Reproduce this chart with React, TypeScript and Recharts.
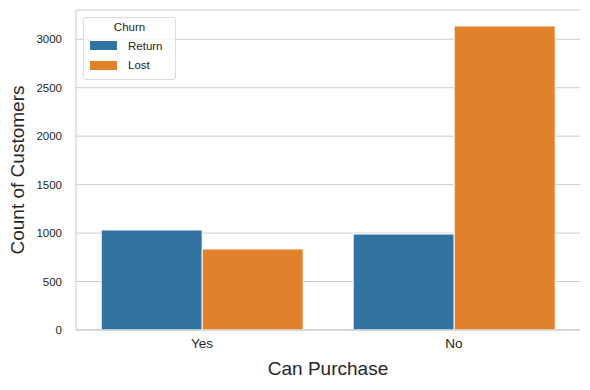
import React from 'react';
import { Bar, BarChart, CartesianGrid, XAxis, YAxis } from 'recharts';

const categories = ['Yes', 'No'];
const returnCounts = [1032, 990];
const lostCounts = [836, 3137];
const yTicks = [0, 500, 1000, 1500, 2000, 2500, 3000];

const data = categories.map((c, i) => ({
  purchase: c,
  Return: returnCounts[i],
  Lost: lostCounts[i],
}));

const BLUE = '#3274a1';
const ORANGE = '#e1812c';
const GRID = '#cccccc';
const FONT = '"Liberation Sans", Arial, sans-serif';

const ChurnLegend = () => (
  <div
    style={{
      position: 'absolute',
      left: 83,
      top: 17,
      boxSizing: 'border-box',
      width: 93,
      height: 63,
      border: '1px solid #dddddd',
      borderRadius: 3,
      background: 'rgba(255,255,255,0.8)',
      padding: '3px 6px 0 6px',
      fontFamily: FONT,
      fontSize: 11.5,
      color: '#262626',
    }}
  >
    <div style={{ textAlign: 'center', marginBottom: 3 }}>Churn</div>
    {[
      { name: 'Return', color: BLUE },
      { name: 'Lost', color: ORANGE },
    ].map((e) => (
      <div key={e.name} style={{ display: 'flex', alignItems: 'center', height: 19.5 }}>
        <span style={{ display: 'inline-block', width: 27, height: 9, background: e.color, marginRight: 11 }} />
        <span>{e.name}</span>
      </div>
    ))}
  </div>
);

export default function App() {
  return (
    <div style={{ position: 'absolute', left: 0, top: 0, width: 590, height: 390, background: '#fff' }}>
      <BarChart
        width={590}
        height={390}
        data={data}
        margin={{ top: 10, right: 10, left: 0, bottom: 0 }}
        barCategoryGap="10%"
        barGap={0}
      >
        <CartesianGrid xAxisId="main" yAxisId="main" vertical={false} stroke={GRID} strokeWidth={1} />
        <XAxis
          dataKey="purchase"
          xAxisId="main"
          height={60}
          axisLine={{ stroke: GRID }}
          tickLine={false}
          tick={{ fill: '#262626', fontSize: 13.5, fontFamily: FONT }}
          tickMargin={2}
          label={{ value: 'Can Purchase', position: 'insideBottom', offset: 15, fill: '#262626', fontSize: 19, fontFamily: FONT }}
        />
        <XAxis xAxisId="top" orientation="top" dataKey="purchase" height={0} tick={false} tickLine={false} axisLine={{ stroke: GRID }} />
        <YAxis
          yAxisId="main"
          width={76}
          domain={[0, 3302]}
          ticks={yTicks}
          allowDataOverflow
          axisLine={{ stroke: GRID }}
          tickLine={false}
          tick={{ fill: '#262626', fontSize: 11.5, fontFamily: FONT }}
          tickMargin={8}
          label={{ value: 'Count of Customers', angle: -90, position: 'insideLeft', offset: 17, fill: '#262626', fontSize: 19, fontFamily: FONT, style: { textAnchor: 'middle' } }}
        />
        <YAxis yAxisId="right" orientation="right" width={0} tick={false} tickLine={false} axisLine={{ stroke: GRID }} />
        <Bar xAxisId="main" yAxisId="main" dataKey="Return" fill={BLUE} stroke="#ffffff" strokeWidth={1} isAnimationActive={false} />
        <Bar xAxisId="main" yAxisId="main" dataKey="Lost" fill={ORANGE} stroke="#ffffff" strokeWidth={1} isAnimationActive={false} />
      </BarChart>
      <ChurnLegend />
    </div>
  );
}
